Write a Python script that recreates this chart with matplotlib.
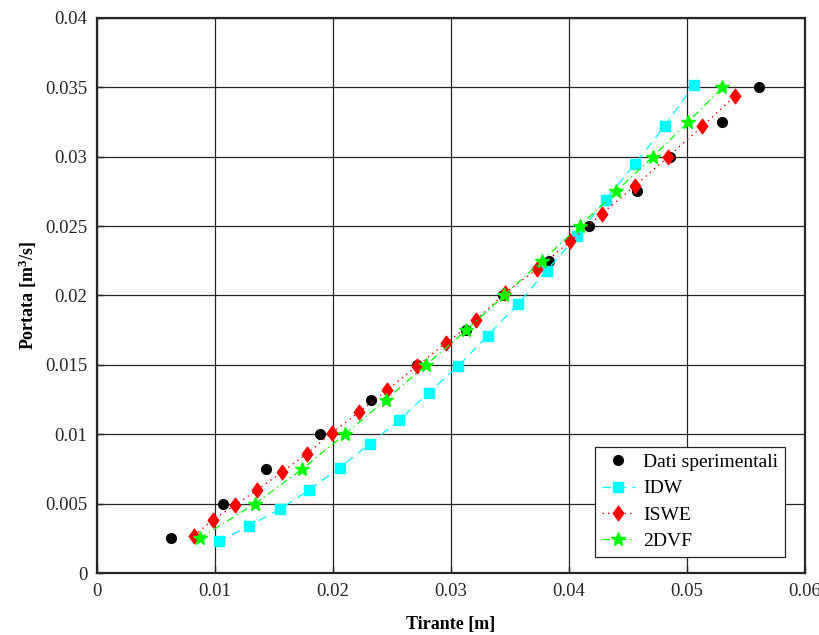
import matplotlib
matplotlib.use("Agg")
import matplotlib.pyplot as plt
from matplotlib.path import Path

# data
exp_x = [0.0063, 0.0107, 0.0143, 0.0189, 0.0232, 0.0271, 0.0313,
         0.0344, 0.0383, 0.0417, 0.0458, 0.0486, 0.0530, 0.0561]
exp_y = [0.0025, 0.005, 0.0075, 0.01, 0.0125, 0.015, 0.0175,
         0.02, 0.0225, 0.025, 0.0275, 0.03, 0.0325, 0.035]

idw_x = [0.0103, 0.0129, 0.0155, 0.0180, 0.0206, 0.0231, 0.0256, 0.0281, 0.0306,
         0.0331, 0.0357, 0.0381, 0.0407, 0.0431, 0.0456, 0.0481, 0.0506]
idw_y = [0.0023, 0.0034, 0.0046, 0.0060, 0.0076, 0.0093, 0.0110, 0.0130, 0.0149,
         0.0171, 0.0194, 0.0218, 0.0243, 0.0269, 0.0295, 0.0322, 0.0352]

iswe_x = [0.0082, 0.0098, 0.0117, 0.0136, 0.0157, 0.0178, 0.0199, 0.0222, 0.0246, 0.0271,
          0.0296, 0.0321, 0.0346, 0.0373, 0.0401, 0.0428, 0.0456, 0.0484, 0.0513, 0.0541]
iswe_y = [0.0027, 0.0038, 0.0049, 0.0060, 0.0073, 0.0086, 0.0101, 0.0116, 0.0132, 0.0149,
          0.0166, 0.0182, 0.0202, 0.0219, 0.0239, 0.0259, 0.0279, 0.0300, 0.0322, 0.0344]

dvf_x = [0.0087, 0.0134, 0.0174, 0.0210, 0.0245, 0.0279, 0.0313,
         0.0345, 0.0377, 0.0409, 0.0440, 0.0471, 0.0501, 0.0530]
dvf_y = [0.0025, 0.005, 0.0075, 0.01, 0.0125, 0.015, 0.0175,
         0.02, 0.0225, 0.025, 0.0275, 0.03, 0.0325, 0.035]

x_ticks = [0, 0.01, 0.02, 0.03, 0.04, 0.05, 0.06]
x_labels = ['0', '0.01', '0.02', '0.03', '0.04', '0.05', '0.06']
y_ticks = [0, 0.005, 0.01, 0.015, 0.02, 0.025, 0.03, 0.035, 0.04]
y_labels = ['0', '0.005', '0.01', '0.015', '0.02', '0.025', '0.03', '0.035', '0.04']

plt.rcParams['font.family'] = ['Liberation Serif', 'DejaVu Serif']
plt.rcParams['mathtext.default'] = 'regular'

# MATLAB-like diamond (wider than matplotlib's 'd')
diamond = Path([(0, 1), (0.72, 0), (0, -1), (-0.72, 0), (0, 1)],
               [Path.MOVETO, Path.LINETO, Path.LINETO, Path.LINETO, Path.CLOSEPOLY])

fig = plt.figure(figsize=(8.2, 6.35), dpi=100)
ax = fig.add_axes([0.1183, 0.0976, 0.8634, 0.8741])

ax.plot(exp_x, exp_y, 'o', color='black', markersize=7, linestyle='none',
        label='Dati sperimentali', zorder=3)
ax.plot(idw_x, idw_y, color='cyan', linestyle=(0, (7, 5)), linewidth=0.9,
        marker='s', markersize=6.5, label='IDW', zorder=4)
ax.plot(iswe_x, iswe_y, color='red', linestyle=(0, (1, 3)), linewidth=1.0,
        marker=diamond, markersize=10.5, label='ISWE', zorder=5)
ax.plot(dvf_x, dvf_y, color='#00ff00', linestyle=(0, (6, 3, 1, 3)), linewidth=0.9,
        marker='*', markersize=10, label='2DVF', zorder=6)

ax.set_xlim(0, 0.06)
ax.set_ylim(0, 0.04)
ax.set_xticks(x_ticks)
ax.set_xticklabels(x_labels)
ax.set_yticks(y_ticks)
ax.set_yticklabels(y_labels)
ax.tick_params(direction='in', labelsize=13.5, colors='#262626', length=5, width=1)
ax.tick_params(axis='x', pad=7)
ax.tick_params(axis='y', pad=7)
ax.grid(True, color='#262626', linewidth=0.9)
ax.set_axisbelow(True)
for s in ax.spines.values():
    s.set_linewidth(1.6)
    s.set_color('#262626')

ax.set_xlabel('Tirante [m]', fontsize=13, fontweight='bold', labelpad=12)
ax.set_ylabel('Portata [m$^3$/s]', fontsize=13, fontweight='bold', labelpad=4)

leg = ax.legend(loc='lower right', bbox_to_anchor=(0.972, 0.029), fontsize=14,
                fancybox=False, framealpha=1, edgecolor='#262626',
                handlelength=1.7, borderaxespad=0, borderpad=0.35,
                labelspacing=0.45, handletextpad=0.45)
leg.get_frame().set_linewidth(0.9)

fig.savefig('out.png', dpi=100)
